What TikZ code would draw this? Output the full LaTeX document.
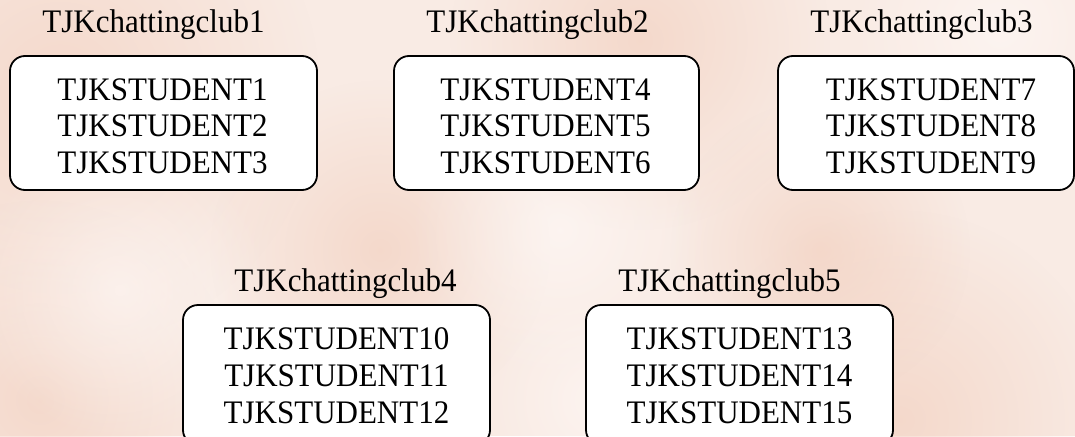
\documentclass[tikz,border=0pt]{standalone}
\usepackage{fontspec}
\setmainfont{Liberation Serif}
\usetikzlibrary{fadings}
\definecolor{bgbase}{RGB}{249,235,228}
\definecolor{bgdark}{RGB}{242,207,190}
\definecolor{bglight}{RGB}{254,249,247}
\tikzfading[name=softspot, inner color=transparent!35, outer color=transparent!100]
\newcommand{\tallbox}[1]{\scalebox{1}[1.06]{#1}}
\tikzset{
  clubbox/.style={draw=black, line width=1.8pt, fill=white, rounded corners=15pt, inner sep=0pt},
  stu/.style={anchor=base, inner sep=0pt, font=\fontsize{31}{36}\selectfont},
  clubtitle/.style={anchor=base, inner sep=0pt, font=\fontsize{31}{36}\selectfont},
  darkspot/.style={fill=bgdark, path fading=softspot},
  lightspot/.style={fill=bglight, path fading=softspot}
}
\begin{document}
\begin{tikzpicture}[x=1pt,y=-1pt]
\useasboundingbox (0,0) rectangle (1075,436);
\clip (0,0) rectangle (1075,436);
% background watermark
\fill[bgbase] (0,0) rectangle (1075,436);
\fill[darkspot] (60,90) circle (260);
\fill[darkspot] (40,400) circle (200);
\fill[darkspot] (640,40) circle (190);
\fill[darkspot] (900,420) circle (210);
\fill[darkspot] (380,250) circle (170);
\fill[darkspot] (820,250) circle (150);
\fill[lightspot] (560,230) circle (150);
\fill[lightspot] (1000,30) circle (150);
\fill[lightspot] (120,290) circle (150);
\fill[lightspot] (600,400) circle (110);
% top row
\node[clubtitle] (t1) at (153.5,33) {\tallbox{TJKchattingclub1}};
\node[clubtitle] (t2) at (537.5,33) {\tallbox{TJKchattingclub2}};
\node[clubtitle] (t3) at (921.5,33) {\tallbox{TJKchattingclub3}};
\node[clubbox, minimum width=307pt, minimum height=134pt] (b1) at (163.5,123) {};
\node[clubbox, minimum width=305pt, minimum height=134pt] (b2) at (546.5,123) {};
\node[clubbox, minimum width=296pt, minimum height=134pt] (b3) at (926,123) {};
\node[stu] (s1) at (162.5,100) {\tallbox{TJKSTUDENT1}};
\node[stu] (s2) at (162.5,136.7) {\tallbox{TJKSTUDENT2}};
\node[stu] (s3) at (162.5,173.3) {\tallbox{TJKSTUDENT3}};
\node[stu] (s4) at (545.5,100) {\tallbox{TJKSTUDENT4}};
\node[stu] (s5) at (545.5,136.7) {\tallbox{TJKSTUDENT5}};
\node[stu] (s6) at (545.5,173.3) {\tallbox{TJKSTUDENT6}};
\node[stu] (s7) at (931,100) {\tallbox{TJKSTUDENT7}};
\node[stu] (s8) at (931,136.7) {\tallbox{TJKSTUDENT8}};
\node[stu] (s9) at (931,173.3) {\tallbox{TJKSTUDENT9}};
% bottom row
\node[clubtitle] (t4) at (345.5,291) {\tallbox{TJKchattingclub4}};
\node[clubtitle] (t5) at (729.5,291) {\tallbox{TJKchattingclub5}};
\node[clubbox, minimum width=307pt, minimum height=140pt] (b4) at (336.5,375) {};
\node[clubbox, minimum width=307pt, minimum height=140pt] (b5) at (739.5,375) {};
\node[stu] (s10) at (336.5,349) {\tallbox{TJKSTUDENT10}};
\node[stu] (s11) at (336.5,386) {\tallbox{TJKSTUDENT11}};
\node[stu] (s12) at (336.5,423) {\tallbox{TJKSTUDENT12}};
\node[stu] (s13) at (739.5,349) {\tallbox{TJKSTUDENT13}};
\node[stu] (s14) at (739.5,386) {\tallbox{TJKSTUDENT14}};
\node[stu] (s15) at (739.5,423) {\tallbox{TJKSTUDENT15}};
\end{tikzpicture}
\end{document}
